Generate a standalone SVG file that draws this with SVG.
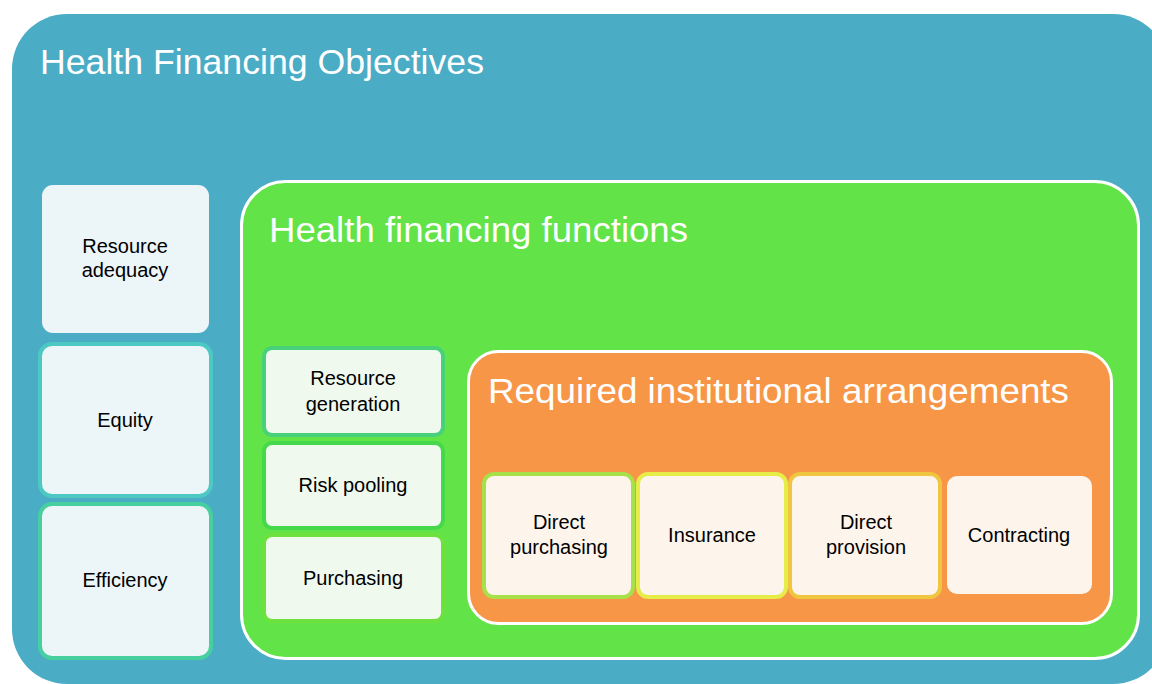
<svg xmlns="http://www.w3.org/2000/svg" width="1152" height="684" viewBox="0 0 1152 684">
<style>
.title{font-family:"Liberation Sans",Arial,sans-serif;font-size:35px;fill:#ffffff}
.lbl{font-family:"Liberation Sans",Arial,sans-serif;font-size:20px;fill:#000000;text-anchor:middle}
.obj{fill:#ECF5F8}
.fn{fill:#EFF9EE}
.arr{fill:#FDF4EC}
</style>
<rect width="1152" height="684" fill="#ffffff"/>
<g id="objectives">
<rect x="12" y="14" width="1156" height="670" rx="55" fill="#4BACC6"/>
<text class="title" x="40" y="74" textLength="444" lengthAdjust="spacingAndGlyphs">Health Financing Objectives</text>
</g>
<g id="resource-adequacy">
<rect class="obj" x="42" y="185" width="167" height="148" rx="11"/>
<text class="lbl" x="125" y="253">Resource</text>
<text class="lbl" x="125" y="277">adequacy</text>
</g>
<g id="equity">
<rect class="obj" x="40" y="344" width="171" height="152" rx="12" stroke="#4DC9C3" stroke-width="4"/>
<text class="lbl" x="125" y="427">Equity</text>
</g>
<g id="efficiency">
<rect class="obj" x="40" y="504" width="171" height="154" rx="12" stroke="#48CFA0" stroke-width="4"/>
<text class="lbl" x="125" y="587">Efficiency</text>
</g>
<g id="functions">
<rect x="241.5" y="181.5" width="897" height="477" rx="44" fill="#62E348" stroke="#ffffff" stroke-width="3"/>
<text class="title" x="269" y="242" textLength="419" lengthAdjust="spacingAndGlyphs">Health financing functions</text>
</g>
<g id="resource-generation">
<rect class="fn" x="264" y="348" width="179" height="87" rx="8" stroke="#48D17A" stroke-width="4"/>
<text class="lbl" x="353" y="385">Resource</text>
<text class="lbl" x="353" y="411">generation</text>
</g>
<g id="risk-pooling">
<rect class="fn" x="264" y="443" width="179" height="85" rx="8" stroke="#44D84A" stroke-width="4"/>
<text class="lbl" x="353" y="492">Risk pooling</text>
</g>
<g id="purchasing">
<rect class="fn" x="264" y="535" width="179" height="86" rx="8" stroke="#6DE23F" stroke-width="4"/>
<text class="lbl" x="353" y="585">Purchasing</text>
</g>
<g id="arrangements">
<rect x="468.5" y="351.5" width="643" height="272" rx="30" fill="#F79646" stroke="#ffffff" stroke-width="3"/>
<text class="title" x="488" y="403" textLength="581" lengthAdjust="spacingAndGlyphs">Required institutional arrangements</text>
</g>
<g id="direct-purchasing">
<rect class="arr" x="484" y="474" width="149" height="123" rx="10" stroke="#A8E04A" stroke-width="4"/>
<text class="lbl" x="559" y="529">Direct</text>
<text class="lbl" x="559" y="554">purchasing</text>
</g>
<g id="insurance">
<rect class="arr" x="638" y="474" width="148" height="123" rx="10" stroke="#E6EC48" stroke-width="4"/>
<text class="lbl" x="712" y="542">Insurance</text>
</g>
<g id="direct-provision">
<rect class="arr" x="790" y="474" width="150" height="123" rx="10" stroke="#F0C640" stroke-width="4"/>
<text class="lbl" x="866" y="529">Direct</text>
<text class="lbl" x="866" y="554">provision</text>
</g>
<g id="contracting">
<rect class="arr" x="947" y="476" width="145" height="118" rx="10"/>
<text class="lbl" x="1019" y="542">Contracting</text>
</g>
<g id="connectors"/>
</svg>
